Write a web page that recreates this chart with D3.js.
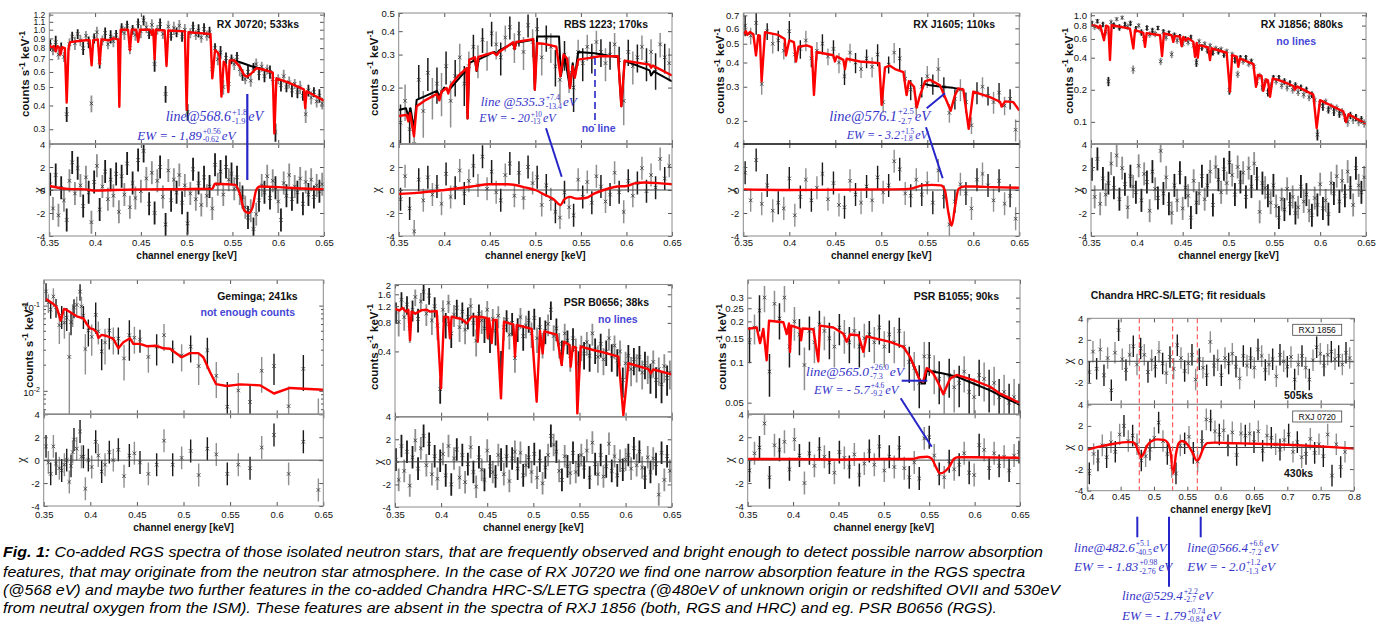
<!DOCTYPE html>
<html><head><meta charset="utf-8">
<script src="https://cdn.jsdelivr.net/npm/d3@7"></script>
<style>body{margin:0;background:#fff}</style>
</head><body>
<script>
// ================= DATA =================
const X_TICKS = [0.35,0.4,0.45,0.5,0.55,0.6,0.65];
const X_LABELS = ["0.35","0.4","0.45","0.5","0.55","0.6","0.65"];
const XC_TICKS = [0.4,0.45,0.5,0.55,0.6,0.65,0.7,0.75,0.8];
const XC_LABELS = ["0.4","0.45","0.5","0.55","0.6","0.65","0.7","0.75","0.8"];
const CHI_TICKS = [-4,-2,0,2,4];
const CHI_LABELS = ["-4","-2","0","2","4"];

// fine RGS channel grid (RX J0720, RX J1856, PSR B0656)
const E_fine = [0.351,0.354,0.357,0.360,0.363,0.366,0.369,0.372,0.375,0.378,
0.381,0.384,0.387,0.390,0.393,0.396,0.399,0.402,0.405,0.408,
0.411,0.414,0.417,0.420,0.423,0.426,0.429,0.432,0.435,0.438,
0.441,0.444,0.447,0.450,0.453,0.456,0.459,0.462,0.465,0.468,
0.471,0.474,0.477,0.480,0.483,0.486,0.489,0.492,0.495,0.498,
0.501,0.504,0.507,0.510,0.513,0.516,0.519,0.522,0.525,0.528,
0.531,0.534,0.537,0.540,0.543,0.546,0.549,0.552,0.555,0.558,
0.561,0.564,0.567,0.570,0.573,0.576,0.579,0.582,0.585,0.588,
0.591,0.594,0.597,0.600,0.603,0.606,0.609,0.612,0.615,0.618,
0.621,0.624,0.627,0.630,0.633,0.636,0.639,0.642,0.645,0.648];

// ---- RX J0720 ----
const J0720_yTicks = [0.3,0.4,0.5,0.6,0.7,0.8,0.9,1.0,1.1,1.2];
const J0720_yLabels = ["0.3","0.4","0.5","0.6","0.7","0.8","0.9","1.0","1.1","1.2"];
const J0720_flux = [.83,.78,.86,.74,.80,.72,.36,.84,.92,.85,
.95,.88,.80,.93,.86,.41,.90,.97,.68,.88,
.96,.84,.92,.87,.94,.85,1.02,.96,1.05,.80,
1.00,.94,1.08,.98,1.12,1.03,.95,1.06,.66,1.00,
1.07,.95,.46,1.04,.93,1.02,.97,1.05,.92,1.00,
.37,.96,1.03,.94,.99,.91,1.01,.93,.97,.62,
.80,.70,.76,.50,.71,.52,.70,.66,.72,.62,
.58,.55,.60,.54,.63,.66,.59,.64,.57,.62,
.60,.55,.29,.55,.51,.57,.50,.53,.48,.52,
.47,.50,.45,.36,.48,.44,.47,.42,.45,.41];
const J0720_err = [.07,.06,.08,.06,.07,.06,.09,.07,.06,.08,.06,.07,.08,.06,.07,.1,.06,.07,.08,.06,
.07,.06,.08,.07,.06,.07,.06,.08,.06,.07,.06,.07,.06,.08,.06,.07,.06,.07,.09,.06,
.07,.06,.1,.07,.06,.08,.06,.07,.06,.07,.1,.06,.07,.06,.08,.06,.07,.06,.07,.08,
.06,.07,.08,.09,.07,.08,.06,.07,.06,.08,.07,.06,.08,.07,.06,.07,.08,.06,.07,.06,
.08,.07,.11,.06,.07,.08,.06,.07,.08,.06,.07,.08,.06,.1,.07,.08,.06,.07,.08,.07];
const J0720_chi = [0.5,-1.6,1.3,-2.2,0.2,-0.9,-2.6,0.8,2.4,-0.3,
1.9,0.4,-1.4,1.1,-0.2,-2.8,0.7,2.1,-1.7,0.3,
1.6,-0.8,0.9,-0.5,1.4,-1.9,1.2,-0.4,2.3,-1.5,
0.6,-0.7,2.6,-0.1,3.4,1.0,-1.2,1.5,-2.0,0.8,
2.0,-0.6,-3.0,1.7,-0.9,0.9,-0.2,1.3,-1.1,0.4,
-2.9,-0.3,1.8,-0.8,0.6,-1.3,1.1,-0.5,0.3,-1.6,
2.2,0.5,1.6,-0.4,2.0,0.9,1.4,0.1,1.1,-0.3,
-0.6,-1.5,-2.4,-1.8,-3.4,-2.1,-0.9,0.4,-0.2,1.2,
-0.7,0.8,0.2,-1.0,-2.6,0.6,-0.5,1.3,-0.8,0.3,
-0.2,1.0,-1.2,0.7,-0.4,0.9,-0.6,0.4,-0.1,0.5];
const J0720_model = [[0.350,0.83],[0.353,0.80],[0.355,0.82],[0.357,0.77],[0.359,0.82],[0.361,0.80],[0.362,0.74],[0.364,0.81],[0.367,0.80],[0.369,0.414],[0.371,0.80],[0.3726,0.86],[0.380,0.87],[0.390,0.88],[0.394,0.88],[0.3962,0.65],[0.398,0.88],[0.403,0.89],[0.405,0.66],[0.407,0.89],[0.415,0.88],[0.420,0.90],[0.425,0.89],[0.4265,0.394],[0.428,1.0],[0.436,1.0],[0.438,0.78],[0.440,1.0],[0.445,1.0],[0.447,0.865],[0.449,1.0],[0.460,1.0],[0.462,0.94],[0.4635,1.0],[0.465,0.70],[0.4665,1.0],[0.476,0.99],[0.478,0.645],[0.480,0.99],[0.498,0.98],[0.500,0.38],[0.502,0.97],[0.515,0.96],[0.526,0.95],[0.528,0.555],[0.531,0.78],[0.534,0.76],[0.536,0.72],[0.538,0.445],[0.5405,0.68],[0.543,0.65],[0.5455,0.47],[0.547,0.69],[0.552,0.69],[0.558,0.64],[0.563,0.575],[0.566,0.567],[0.570,0.585],[0.576,0.627],[0.582,0.62],[0.588,0.61],[0.594,0.595],[0.5958,0.286],[0.598,0.555],[0.610,0.53],[0.620,0.505],[0.628,0.486],[0.6295,0.387],[0.631,0.475],[0.640,0.45],[0.650,0.424]];
const J0720_noline = [[0.547,0.69],[0.552,0.69],[0.560,0.67],[0.570,0.645],[0.580,0.625],[0.590,0.605],[0.594,0.595]];
const J0720_resid = [[0.35,0.35],[0.36,0.2],[0.37,0.1],[0.39,0.05],[0.40,-0.05],[0.42,0.0],[0.45,0.05],[0.5,0.08],[0.528,0.1],[0.531,0.55],[0.545,0.5],[0.553,0.45],[0.558,-0.3],[0.563,-1.8],[0.568,-2.0],[0.572,-1.5],[0.576,0],[0.58,0.3],[0.6,0.25],[0.62,0.15],[0.65,0.05]];

// ---- RBS 1223 ----
const R1223_yTicks = [0.2,0.3,0.4,0.5];
const R1223_yLabels = ["0.2","0.3","0.4","0.5"];
const R1223_E = [0.352,0.357,0.362,0.367,0.372,0.377,0.382,0.387,0.392,0.397,
0.402,0.407,0.412,0.417,0.422,0.427,0.432,0.437,0.442,0.447,
0.452,0.457,0.462,0.467,0.472,0.477,0.482,0.487,0.492,0.497,
0.502,0.507,0.512,0.517,0.522,0.527,0.532,0.537,0.542,0.547,
0.552,0.557,0.562,0.567,0.572,0.577,0.582,0.587,0.592,0.597,
0.602,0.607,0.612,0.617,0.622,0.627,0.632,0.637,0.642,0.647];
const R1223_flux = [.13,.17,.12,.10,.22,.15,.24,.18,.21,.19,
.26,.17,.23,.29,.21,.26,.33,.28,.36,.30,
.39,.34,.29,.37,.42,.33,.39,.31,.43,.35,
.41,.29,.37,.33,.26,.22,.30,.24,.20,.31,
.27,.33,.29,.35,.31,.27,.30,.34,.28,.17,
.31,.26,.29,.33,.27,.31,.25,.34,.29,.27];
const R1223_err = [.25,.22,.3,.35,.2,.28,.2,.25,.22,.26,.2,.28,.22,.18,.24,.2,.16,.2,.15,.18,
.15,.17,.2,.16,.14,.18,.15,.2,.14,.17,.15,.2,.16,.18,.22,.25,.18,.22,.26,.16,
.2,.16,.18,.15,.17,.2,.17,.15,.18,.26,.16,.2,.17,.15,.2,.17,.22,.15,.18,.2];
const R1223_chi = [-0.8,1.2,-1.6,-3.6,0.9,-0.9,1.1,-0.4,0.3,-1.2,
1.4,-0.6,0.2,1.7,-0.3,0.8,2.1,0.4,2.9,0.1,
1.6,-0.2,-0.9,1.3,2.3,-0.5,1.5,-0.7,2.0,0.6,
1.1,-1.3,0.4,-0.8,-1.9,-2.4,-0.2,-1.5,-2.2,0.9,
-0.6,0.7,-1.1,1.2,0.3,-1.0,-0.4,1.5,-0.2,-1.9,
0.8,-0.5,0.6,1.9,-0.1,1.3,0.2,2.7,1.0,2.1];
const R1223_model = [[0.350,0.141],[0.3588,0.143],[0.3606,0.132],[0.3625,0.146],[0.3668,0.110],[0.3697,0.159],[0.380,0.172],[0.3917,0.185],[0.3946,0.171],[0.397,0.19],[0.4026,0.199],[0.4044,0.186],[0.407,0.205],[0.415,0.23],[0.421,0.245],[0.4245,0.254],[0.4256,0.137],[0.4275,0.282],[0.4337,0.29],[0.4355,0.247],[0.4375,0.292],[0.4538,0.308],[0.4574,0.298],[0.461,0.312],[0.4757,0.349],[0.4772,0.322],[0.479,0.35],[0.4976,0.363],[0.4994,0.195],[0.502,0.345],[0.510,0.342],[0.523,0.331],[0.5275,0.23],[0.531,0.30],[0.535,0.285],[0.538,0.199],[0.541,0.26],[0.5433,0.226],[0.547,0.282],[0.560,0.288],[0.5707,0.294],[0.5908,0.294],[0.5944,0.159],[0.598,0.278],[0.6255,0.265],[0.627,0.255],[0.629,0.262],[0.650,0.232]];
const R1223_noline = [[0.350,0.152],[0.358,0.155],[0.3606,0.14],[0.363,0.155],[0.3668,0.12],[0.3697,0.172],[0.392,0.192],[0.3946,0.18],[0.40,0.2],[0.4044,0.192],[0.421,0.238],[0.4245,0.245],[0.4256,0.137],[0.4275,0.27],[0.4337,0.28],[0.4355,0.245],[0.438,0.283],[0.455,0.31],[0.4574,0.3],[0.46,0.315],[0.4757,0.345],[0.4772,0.32],[0.479,0.347],[0.4976,0.36],[0.4994,0.195],[0.502,0.375],[0.526,0.375],[0.528,0.23],[0.532,0.3],[0.538,0.199],[0.541,0.27],[0.5433,0.226],[0.547,0.31],[0.565,0.305],[0.5908,0.29],[0.5944,0.159],[0.598,0.278],[0.6255,0.247],[0.627,0.232],[0.63,0.244],[0.65,0.216]];
const R1223_resid = [[0.35,-0.35],[0.37,-0.25],[0.40,0.0],[0.43,0.3],[0.45,0.5],[0.47,0.5],[0.49,0.2],[0.50,0.0],[0.51,-0.4],[0.52,-0.8],[0.5275,-1.3],[0.532,-0.8],[0.538,-0.6],[0.545,-0.75],[0.555,-0.7],[0.565,-0.3],[0.575,0.0],[0.59,0.3],[0.60,0.35],[0.61,0.6],[0.62,0.65],[0.635,0.6],[0.65,0.5]];

// ---- RX J1605 ----
const J1605_yTicks = [0.2,0.3,0.4,0.5,0.6,0.7];
const J1605_yLabels = ["0.2","0.3","0.4","0.5","0.6","0.7"];
const J1605_E = [0.352,0.358,0.364,0.370,0.376,0.382,0.388,0.394,0.400,0.406,
0.412,0.418,0.424,0.430,0.436,0.442,0.448,0.454,0.460,0.466,
0.472,0.478,0.484,0.490,0.496,0.502,0.508,0.514,0.520,0.526,
0.532,0.538,0.544,0.550,0.556,0.562,0.568,0.574,0.580,0.586,
0.592,0.598,0.604,0.610,0.616,0.622,0.628,0.634,0.640,0.646];
const J1605_flux = [.62,.55,.64,.31,.58,.50,.52,.46,.58,.44,
.47,.52,.42,.46,.50,.43,.47,.40,.34,.45,
.40,.37,.42,.38,.44,.25,.39,.45,.42,.33,
.29,.24,.30,.34,.31,.37,.30,.22,.26,.29,
.25,.19,.28,.30,.27,.25,.28,.24,.26,.18];
const J1605_err = [.12,.1,.13,.12,.1,.11,.12,.1,.13,.1,.11,.12,.1,.11,.12,.1,.11,.12,.1,.11,
.12,.1,.11,.12,.13,.12,.1,.12,.13,.11,.12,.11,.12,.13,.12,.14,.12,.11,.12,.13,
.12,.1,.13,.12,.11,.13,.12,.11,.12,.13];
const J1605_chi = [1.5,-0.9,2.6,-1.2,0.4,-1.8,-1.1,-1.6,1.0,-2.2,
-0.6,0.9,-0.9,0.2,1.4,-0.8,0.6,-1.3,-1.5,0.8,
-0.4,-1.1,0.3,-0.9,1.1,-0.2,0.4,2.5,1.8,-0.3,
-0.5,0.9,-0.4,0.6,-1.1,1.7,-0.6,-3.0,-1.0,0.5,
-0.3,-1.6,0.9,1.4,0.4,-0.9,0.8,-1.2,-0.5,-2.5];
const J1605_model = [[0.350,0.559],[0.3529,0.58],[0.3543,0.555],[0.3572,0.575],[0.3609,0.56],[0.3638,0.435],[0.3663,0.553],[0.368,0.55],[0.3699,0.32],[0.3736,0.574],[0.380,0.565],[0.388,0.555],[0.395,0.529],[0.3964,0.435],[0.400,0.52],[0.405,0.51],[0.4073,0.405],[0.410,0.482],[0.4188,0.49],[0.4243,0.48],[0.4268,0.272],[0.4297,0.453],[0.4478,0.436],[0.4496,0.405],[0.4515,0.43],[0.4587,0.413],[0.4605,0.37],[0.4623,0.418],[0.4768,0.405],[0.4978,0.397],[0.5004,0.242],[0.504,0.378],[0.5094,0.385],[0.5149,0.37],[0.524,0.357],[0.5275,0.272],[0.530,0.32],[0.5356,0.30],[0.5384,0.234],[0.542,0.27],[0.5475,0.32],[0.5529,0.326],[0.5638,0.305],[0.570,0.26],[0.5754,0.226],[0.580,0.27],[0.5837,0.294],[0.5892,0.29],[0.595,0.182],[0.600,0.283],[0.6181,0.265],[0.629,0.251],[0.6308,0.237],[0.6345,0.252],[0.6435,0.25],[0.650,0.226]];
const J1605_noline = [[0.5475,0.31],[0.553,0.305],[0.565,0.30],[0.578,0.296],[0.5892,0.29]];
const J1605_resid = [[0.35,0.05],[0.40,0.0],[0.45,0.02],[0.50,0.05],[0.53,0.1],[0.545,0.4],[0.555,0.45],[0.565,0.4],[0.569,0.0],[0.573,-2.0],[0.5765,-3.1],[0.580,-1.5],[0.584,0.1],[0.59,0.3],[0.60,0.3],[0.62,0.25],[0.65,0.2]];

// ---- RX J1856 ----
const J1856_yTicks = [0.1,0.2,0.4,0.6,0.8,1.0];
const J1856_yLabels = ["0.1","0.2","0.4","0.6","0.8","1.0"];
const J1856_flux = [.84,.78,.88,.76,.82,.70,.24,.86,.80,.92,
.77,.95,.82,.78,.84,.31,.74,.80,.69,.60,
.76,.66,.72,.67,.76,.37,.70,.62,.68,.43,
.65,.58,.63,.54,.60,.56,.62,.52,.36,.57,
.50,.54,.47,.52,.45,.49,.46,.48,.43,.46,
.20,.43,.38,.28,.40,.37,.40,.35,.37,.33,
.24,.27,.21,.24,.19,.22,.26,.24,.26,.22,
.24,.21,.23,.20,.22,.19,.21,.18,.20,.17,
.18,.16,.076,.15,.14,.155,.13,.14,.125,.135,
.12,.125,.11,.10,.115,.105,.11,.10,.105,.097];
const J1856_err = [.06,.07,.05,.07,.06,.08,.1,.06,.07,.05,.07,.05,.06,.07,.06,.09,.07,.06,.07,.08,
.06,.07,.06,.07,.05,.08,.06,.07,.06,.08,.06,.07,.06,.07,.06,.07,.06,.07,.09,.06,
.07,.06,.07,.06,.07,.06,.07,.06,.07,.06,.1,.06,.07,.08,.06,.07,.06,.07,.06,.07,
.08,.07,.08,.07,.09,.07,.06,.07,.06,.08,.07,.08,.07,.08,.07,.08,.07,.08,.07,.08,
.07,.08,.12,.08,.09,.07,.08,.07,.09,.08,.09,.08,.09,.1,.08,.09,.08,.09,.08,.09];
const J1856_chi = [1.8,-0.6,2.7,-1.2,1.0,-0.4,0.6,2.3,0.2,3.0,
-0.8,1.9,0.5,-1.5,1.2,0.3,-0.2,2.1,-0.9,1.4,
0.7,-1.8,1.6,0.1,-0.7,3.4,-0.3,1.1,-1.2,-2.0,
0.4,-0.9,1.5,-1.6,0.2,-0.5,-2.4,0.8,-1.1,-0.3,
1.2,-0.8,0.4,1.6,-1.3,2.0,0.9,-0.2,1.8,0.6,
2.4,1.3,-0.4,2.0,0.7,1.5,-0.6,1.9,0.3,2.3,
1.0,-1.9,0.6,0.2,-0.5,-1.1,0.4,-1.4,-2.4,-0.8,
-1.7,0.1,-1.2,-0.6,-2.0,-1.5,0.3,-1.0,-0.4,-1.8,
-2.2,-0.7,-1.3,0.5,-1.6,-0.9,-2.1,0.6,-0.3,1.2,
-1.0,0.8,-0.5,1.6,0.2,-1.3,1.9,0.4,-0.2,1.1];
const J1856_model = [[0.350,0.806],[0.3562,0.79],[0.358,0.76],[0.360,0.80],[0.3642,0.584],[0.3665,0.80],[0.369,0.78],[0.3707,0.38],[0.3725,0.806],[0.3925,0.75],[0.3962,0.488],[0.398,0.724],[0.4071,0.684],[0.4089,0.506],[0.4107,0.68],[0.4253,0.65],[0.4275,0.414],[0.4296,0.674],[0.438,0.65],[0.4398,0.563],[0.4416,0.64],[0.4471,0.63],[0.4489,0.513],[0.4507,0.625],[0.4536,0.58],[0.456,0.61],[0.4616,0.563],[0.4635,0.408],[0.4653,0.55],[0.4665,0.40],[0.468,0.524],[0.478,0.498],[0.4798,0.38],[0.4816,0.49],[0.498,0.445],[0.5016,0.192],[0.504,0.422],[0.5089,0.41],[0.5107,0.329],[0.5125,0.393],[0.5271,0.348],[0.530,0.213],[0.532,0.275],[0.536,0.27],[0.538,0.196],[0.541,0.25],[0.543,0.245],[0.5453,0.172],[0.5482,0.256],[0.5598,0.238],[0.5707,0.217],[0.5725,0.20],[0.5745,0.215],[0.5925,0.18],[0.5962,0.0872],[0.5998,0.16],[0.6253,0.125],[0.6282,0.10],[0.631,0.118],[0.650,0.096]];

// ---- Geminga ----
const Gem_E = [0.3525,0.355,0.3575,0.3604,0.3632,0.3668,0.3693,0.3722,0.3747,0.3775,0.3793,0.3811,0.3825,0.3854,0.389,0.3905,0.3926,0.3947,0.3979,0.4015,0.4058,0.4086,0.4122,0.4158,0.4204,0.4247,0.4301,0.4362,0.4419,0.4473,0.4533,0.4623,0.4712,0.4791,0.4884,0.498,0.5077,0.5163,0.5256,0.5352,0.547,0.5588,0.5714,0.5839,0.5971,0.6128,0.6286,0.6447];
const Gem_flux = [.147,.109,.090,.128,.096,.059,.076,.063,.072,.025,.064,.080,.095,.102,.146,.098,.076,.031,.051,.043,.078,.050,.029,.037,.051,.041,.041,.024,.045,.042,.040,.025,.033,.045,.030,.026,.033,.0195,.030,.015,.0065,.0101,.0074,.0172,.0195,.0066,.0181,.0045];
const Gem_err = [.25,.25,.22,.25,.25,.4,.3,.35,.3,.95,.3,.3,.25,.25,.22,.3,.3,.5,.35,.4,.4,.3,.4,.45,.4,.35,.35,.45,.5,.35,.3,.35,.4,.35,.3,.35,.35,.4,.4,.45,.95,.6,.6,.45,.4,.7,.45,.8];
const Gem_chi = [1.2,-0.2,-1.2,1.2,-0.3,-0.7,-0.9,-0.4,0.0,-1.9,-0.5,0.7,1.8,1.0,2.5,0.3,0.3,-2.5,0.0,-0.6,1.6,0.4,-1.0,-0.4,0.7,0.0,0.9,-1.4,0.4,0.6,-0.2,-1.2,-0.4,1.7,-0.4,0.2,0.8,-1.3,1.0,0.5,-1.2,-0.4,-0.7,1.1,2.2,-1.2,1.6,-2.6];
const Gem_model = [[0.3525,0.1197],[0.3604,0.1046],[0.364,0.0956],[0.3682,0.0667],[0.3718,0.0914],[0.3747,0.089],[0.3854,0.075],[0.3926,0.071],[0.3961,0.061],[0.3997,0.0542],[0.4033,0.053],[0.4069,0.0487],[0.4087,0.0418],[0.4122,0.0453],[0.4176,0.044],[0.4247,0.0407],[0.4301,0.0316],[0.4355,0.0372],[0.4426,0.0414],[0.4462,0.0356],[0.4533,0.0356],[0.4605,0.0334],[0.4712,0.0338],[0.4784,0.0316],[0.4855,0.0312],[0.498,0.0248],[0.507,0.0277],[0.5159,0.0277],[0.5213,0.0248],[0.5284,0.0166],[0.5349,0.012],[0.5463,0.0114],[0.5606,0.0119],[0.5821,0.0116],[0.5971,0.0093],[0.6142,0.0108],[0.650,0.0103]];
const Gem_major = [0.01,0.1];
const Gem_minor = [0.006,0.007,0.008,0.009,0.02,0.03,0.04,0.05,0.06,0.07,0.08,0.09];

// ---- PSR B0656 ----
const B0656_yTicks = [0.4,0.8,1.2,1.6,2];
const B0656_yLabels = ["0.4","0.8","1.2","1.6","2"];
const B0656_flux = [1.05,.82,1.4,.92,1.25,.70,1.1,1.5,.88,1.35,
1.7,1.0,1.55,.85,1.2,.75,.16,1.1,.78,1.3,
.62,.98,1.15,.72,1.05,.68,.92,1.2,.80,.52,
1.0,.85,.70,1.1,.55,.88,.66,.95,.31,.72,
.86,.60,.80,.34,.70,.92,.58,.75,.85,.62,
.90,.55,.72,.48,.66,.78,1.1,.58,.70,.48,
.40,.62,.52,.36,.55,.42,.30,.45,.38,.50,
.36,.62,.42,.35,.48,.33,.40,.55,.36,.46,
.32,.40,.20,.30,.36,.26,.33,.28,.35,.24,
.30,.27,.22,.31,.20,.26,.18,.28,.21,.24];
const B0656_err = [.25,.3,.2,.28,.22,.3,.25,.2,.28,.22,.2,.26,.2,.3,.24,.3,.3,.26,.3,.22,
.3,.26,.22,.3,.25,.3,.26,.22,.28,.32,.25,.28,.3,.24,.3,.27,.3,.26,.3,.28,
.26,.3,.27,.3,.28,.25,.3,.27,.26,.3,.25,.3,.27,.3,.28,.26,.22,.3,.27,.3,
.3,.26,.28,.32,.28,.3,.34,.3,.32,.28,.32,.26,.3,.32,.28,.32,.3,.26,.32,.28,
.32,.3,.35,.32,.3,.34,.32,.33,.3,.34,.32,.33,.35,.32,.36,.33,.37,.33,.35,.34];
const B0656_chi = [0.2,-1.6,1.4,-0.8,0.9,-2.1,0.4,1.9,-0.6,1.2,
2.3,-0.3,1.6,-1.1,0.5,-1.5,0.1,0.7,-1.2,1.4,
-2.0,0.3,1.1,-1.4,0.6,-1.8,-0.2,1.3,-0.9,-2.2,
0.4,-0.7,-1.6,1.0,-0.4,-0.9,-1.3,0.6,0.2,-1.1,
0.5,-1.7,0.3,0.9,-0.6,0.8,-1.2,-0.3,0.4,-0.9,
0.7,-1.4,0.1,-1.9,-0.5,0.6,2.3,1.5,0.9,-0.8,
-1.6,0.5,-0.4,-1.0,0.8,-0.9,-0.3,0.6,-0.5,1.0,
-1.4,1.7,-0.2,-1.1,0.6,-1.3,-0.4,1.6,-0.8,0.5,
-1.2,0.1,-0.7,0.2,0.6,-0.6,1.2,-0.3,0.9,-0.5,
-1.4,0.4,-0.9,0.3,-0.2,-2.9,0.8,-1.6,0.5,-0.8];
const B0656_model = [[0.350,1.12],[0.355,1.08],[0.358,1.15],[0.362,1.05],[0.3645,1.1],[0.3663,0.526],[0.368,1.05],[0.372,1.0],[0.3789,1.09],[0.3843,1.1],[0.388,1.05],[0.3952,1.065],[0.3999,0.163],[0.4031,0.927],[0.4078,0.92],[0.4096,0.55],[0.4114,0.93],[0.4169,0.9],[0.422,0.88],[0.4277,0.79],[0.4331,0.93],[0.4386,0.93],[0.4397,0.506],[0.4415,0.93],[0.4494,0.9],[0.4505,0.55],[0.452,0.89],[0.4548,0.49],[0.4566,0.857],[0.4602,0.857],[0.4649,0.128],[0.4682,0.822],[0.4783,0.77],[0.4801,0.352],[0.482,0.76],[0.4982,0.69],[0.5036,0.118],[0.5072,0.657],[0.5101,0.38],[0.512,0.65],[0.5253,0.6],[0.5307,0.288],[0.5332,0.505],[0.539,0.47],[0.5405,0.276],[0.5427,0.449],[0.546,0.44],[0.5477,0.0888],[0.5513,0.45],[0.565,0.414],[0.5759,0.39],[0.5922,0.352],[0.5976,0.085],[0.6031,0.30],[0.6248,0.26],[0.6273,0.235],[0.630,0.258],[0.650,0.229]];

// ---- PSR B1055 ----
const B1055_yTicks = [0.05,0.1,0.15,0.2,0.25,0.3];
const B1055_yLabels = ["0.05","0.1","0.15","0.2","0.25","0.3"];
const B1055_E = [0.352,0.3575,0.363,0.3685,0.374,0.3795,0.385,0.3905,0.396,0.4015,
0.407,0.4125,0.418,0.4235,0.429,0.4345,0.44,0.4455,0.451,0.4565,
0.462,0.4675,0.473,0.4785,0.484,0.4895,0.495,0.5005,0.506,0.5115,
0.517,0.5225,0.528,0.5335,0.539,0.5445,0.55,0.5555,0.561,0.5665,
0.572,0.5775,0.583,0.5885,0.594,0.5995,0.605,0.6105,0.616,0.6215,
0.627,0.6325,0.638,0.6435,0.649];
const B1055_flux = [0.14,0.18,0.24,0.30,0.085,0.27,0.21,0.30,0.13,0.20,
0.16,0.095,0.17,0.14,0.19,0.17,0.15,0.13,0.18,0.16,
0.14,0.17,0.13,0.15,0.16,0.14,0.18,0.13,0.16,0.14,
0.17,0.13,0.10,0.09,0.07,0.11,0.11,0.085,0.075,0.06,
0.08,0.065,0.07,0.085,0.06,0.055,0.08,0.075,0.065,0.07,
0.055,0.06,0.05,0.055,0.05];
const B1055_err = [.3,.25,.3,.22,.35,.25,.3,.22,.3,.28,.3,.35,.28,.3,.26,.28,.3,.3,.26,.28,
.3,.26,.3,.28,.26,.3,.25,.3,.27,.3,.25,.3,.3,.32,.35,.28,.28,.32,.35,.38,
.32,.35,.34,.3,.36,.38,.3,.32,.35,.32,.36,.34,.38,.36,.38];
const B1055_chi = [-0.9,0.6,1.1,3.2,-1.5,1.3,0.9,1.6,-0.8,1.8,
0.4,-2.0,0.6,-0.5,1.0,0.3,-0.2,-1.1,0.7,0.2,
-0.6,0.5,-1.3,-0.3,0.8,-0.4,1.2,-0.9,0.3,-0.6,
1.1,-0.7,-1.5,-0.2,-1.6,1.9,2.0,0.4,-1.2,-1.5,
-0.1,-0.8,-0.4,0.6,-1.1,-1.3,1.3,0.9,-0.7,0.6,
-0.5,0.3,-0.9,0.4,0.7];
const B1055_model = [[0.350,0.176],[0.3599,0.18],[0.3636,0.138],[0.3672,0.176],[0.3709,0.103],[0.3735,0.202],[0.3893,0.197],[0.393,0.161],[0.3955,0.193],[0.3966,0.119],[0.398,0.186],[0.4077,0.177],[0.4088,0.145],[0.4105,0.177],[0.4223,0.175],[0.4278,0.101],[0.4297,0.186],[0.4444,0.18],[0.4554,0.162],[0.4591,0.141],[0.4628,0.16],[0.472,0.158],[0.4774,0.119],[0.481,0.155],[0.5068,0.141],[0.5215,0.1297],[0.5288,0.109],[0.5343,0.0899],[0.5398,0.0725],[0.5435,0.072],[0.5472,0.09],[0.5491,0.089],[0.5545,0.082],[0.560,0.07],[0.5655,0.0577],[0.5729,0.0753],[0.5802,0.0802],[0.5986,0.0735],[0.617,0.0656],[0.6279,0.0584],[0.639,0.054],[0.650,0.0495]];
const B1055_noline = [[0.5288,0.109],[0.538,0.0778],[0.5417,0.0693],[0.5453,0.0693],[0.5472,0.086],[0.5509,0.0858],[0.5655,0.0822],[0.5802,0.0779],[0.5986,0.0693],[0.617,0.0617],[0.6353,0.0536],[0.650,0.0481]];
const B1055_resid = [[0.35,0.1],[0.40,0.1],[0.45,0.05],[0.50,0.1],[0.53,0.1],[0.54,0.25],[0.548,0.3],[0.553,0.1],[0.558,-0.7],[0.562,-1.15],[0.567,-1.0],[0.572,-0.6],[0.577,0.1],[0.582,0.25],[0.60,0.25],[0.65,0.2]];

// ---- Chandra HRC-S/LETG residuals ----
const HRC1856_E = [0.403,0.4085,0.414,0.4195,0.425,0.4305,0.436,0.4415,0.447,0.4525,
0.458,0.4635,0.469,0.4745,0.48,0.4855,0.491,0.4965,0.502,0.5075,
0.513,0.5185,0.524,0.5295,0.535,0.5405,0.546,0.5515,0.557,0.5625,
0.568,0.5735,0.579,0.5845,0.59,0.5955,0.601,0.6065,0.612,0.6175,
0.623,0.6285,0.634,0.6395,0.645,0.6505,0.656,0.6615,0.667,0.6725,
0.678,0.6835,0.689,0.6945,0.70,0.7055,0.711,0.7165,0.722,0.7275,
0.733,0.7385,0.744,0.7495,0.755,0.7605,0.766,0.7715,0.777,0.7825,0.788,0.7935];
const HRC1856_chi = [-1.0,0.9,-0.7,1.1,-1.3,0.3,-2.7,0.8,2.9,0.2,
-0.8,0.6,1.4,-0.3,1.2,0.6,-1.0,0.1,-0.5,0.9,
-0.2,-1.1,0.4,-0.7,1.5,0.3,-0.9,-0.2,0.6,-1.7,
0.2,-0.6,-1.3,1.8,-0.4,0.1,-1.3,0.3,-0.2,0.7,
-0.5,-1.6,0.5,-0.4,0.3,-0.6,1.1,0.5,-0.8,-0.3,
0.2,-1.4,0.6,0.0,-0.5,0.4,-1.7,-0.3,0.5,-0.6,
-1.7,0.1,1.3,0.7,-0.4,0.6,0.9,0.2,0.5,-0.3,0.8,0.3];
const HRC0720_E = [0.403,0.4095,0.416,0.4225,0.429,0.4355,0.442,0.4485,0.455,0.4615,
0.468,0.4745,0.481,0.4875,0.494,0.5005,0.507,0.5135,0.52,0.5265,
0.533,0.5395,0.546,0.5525,0.559,0.5655,0.572,0.5785,0.585,0.5915,
0.598,0.6045,0.611,0.6175,0.624,0.6305,0.637,0.6435,0.65,0.6565,
0.663,0.6695,0.676,0.6825,0.689,0.6955,0.702,0.7085,0.715,0.7215,
0.728,0.7345,0.741,0.7475,0.754,0.7605,0.767,0.7735,0.78,0.7865];
const HRC0720_chi = [-2.4,-0.6,-1.2,0.2,-0.9,0.5,-0.4,1.2,2.0,0.6,
1.1,0.3,-1.2,-0.8,-0.2,0.9,2.3,0.6,-0.6,-1.8,
-2.4,0.2,0.4,1.0,-0.5,-1.3,0.6,2.6,2.5,1.5,
1.2,1.6,0.2,1.4,-0.7,1.3,1.1,1.3,0.5,1.5,
-0.3,1.1,0.9,0.3,-0.2,0.7,1.2,-0.4,0.5,-0.9,
-0.6,0.8,-0.5,0.3,-0.8,1.2,-2.6,0.3,-1.8,-0.4];
const HRC0720_resid = [[0.4,-0.2],[0.42,0.1],[0.44,0.35],[0.46,0.5],[0.468,0.5],[0.473,0.2],[0.478,-0.6],[0.481,-0.9],[0.485,-0.5],[0.49,0.2],[0.497,0.6],[0.505,0.75],[0.515,0.7],[0.521,0.4],[0.525,-0.5],[0.529,-2.4],[0.533,-0.6],[0.537,0.4],[0.542,0.6],[0.55,0.3],[0.558,-0.5],[0.564,-1.2],[0.568,-1.0],[0.573,-0.2],[0.58,0.4],[0.59,0.45],[0.62,0.4],[0.65,0.35],[0.7,0.25],[0.75,0.1],[0.8,-0.1]];
const HRC_lines = [0.478,0.528,0.565];

const CAPTION = [
 ["Fig. 1:"," Co-added RGS spectra of those isolated neutron stars, that are frequently observed and bright enough to detect possible narrow absorption"],
 ["","features, that may originate from the neutron star atmosphere. In the case of RX J0720 we find one narrow absorption feature in the RGS spectra"],
 ["","(@568 eV) and maybe two further features in the co-added Chandra HRC-S/LETG spectra (@480eV of unknown origin or redshifted OVII and 530eV"],
 ["","from neutral oxygen from the ISM). These features are absent in the spectra of RXJ 1856 (both, RGS and HRC) and eg. PSR B0656 (RGS)."]
];

// ================= DRAWING =================
const SANS = "'Liberation Sans', Arial, Helvetica, sans-serif";
const SERIF = "'Liberation Serif', 'Times New Roman', serif";
const BLUE = "#3434c8";
const BLUE2 = "#4646d6";
const RED = "#ff0000";
const DARK = "#1a1a1a", GRAY = "#8f8f8f";

const svg = d3.select("body").append("svg").attr("width",1383).attr("height",625)
  .style("background","#fff");
let clipN = 0;
function clip(x,y,w,h){
  const id = "clp"+(clipN++);
  svg.append("clipPath").attr("id",id).append("rect").attr("x",x).attr("y",y).attr("width",w).attr("height",h);
  return `url(#${id})`;
}

function frame(xs, ys, o){
  const [x0,x1] = xs.range(); const [yb,yt] = ys.range();
  const g = svg.append("g");
  g.append("g").attr("transform",`translate(${x0},0)`)
    .call(d3.axisLeft(ys).tickValues(o.yTicks).tickSize(-4).tickPadding(4)
      .tickFormat((d,i)=> o.yLabels ? o.yLabels[i] : ""));
  g.append("g").attr("transform",`translate(${x1},0)`)
    .call(d3.axisRight(ys).tickValues(o.yTicks).tickSize(-4).tickFormat(""));
  g.append("g").attr("transform",`translate(0,${yb})`)
    .call(d3.axisBottom(xs).tickValues(o.xTicks).tickSize(-4).tickPadding(o.xPad||3)
      .tickFormat((d,i)=> o.xLabels ? o.xLabels[i] : ""));
  g.append("g").attr("transform",`translate(0,${yt})`)
    .call(d3.axisTop(xs).tickValues(o.xTicks).tickSize(-4).tickFormat(""));
  g.selectAll(".domain").remove();
  g.selectAll(".tick line").attr("stroke","#555");
  g.selectAll("text").attr("font-family",SANS).attr("font-size",o.fs||9.5).attr("fill","#111");
  g.append("rect").attr("x",x0).attr("y",yt).attr("width",x1-x0).attr("height",yb-yt)
    .attr("fill","none").attr("stroke","#8a8a8a").attr("stroke-width",1);
  return g;
}

function xmark(g, px, py){
  g.append("path").attr("d",`M${px-1.8},${py-1.8}L${px+1.8},${py+1.8}M${px-1.8},${py+1.8}L${px+1.8},${py-1.8}`)
    .attr("stroke","#333").attr("stroke-width",0.8);
}

function drawUpperData(g, xs, ys, E, V, R, bw){
  const floor = ys.domain()[0]*0.8;
  E.forEach((e,i)=>{
    const px = xs(e), v = V[i], r = R[i];
    g.append("line").attr("x1",px).attr("x2",px)
      .attr("y1",ys(Math.max(v*(1-r),floor))).attr("y2",ys(v*(1+r)))
      .attr("stroke", i%2 ? GRAY : DARK).attr("stroke-width",bw||1.3);
  });
  E.forEach((e,i)=> xmark(g, xs(e), ys(Math.max(V[i],ys.domain()[0]*0.8))));
}
function drawResidData(g, xs, cs, E, C, bw){
  E.forEach((e,i)=>{
    const px = xs(e);
    g.append("line").attr("x1",px).attr("x2",px).attr("y1",cs(C[i]-1)).attr("y2",cs(C[i]+1))
      .attr("stroke", i%2 ? GRAY : DARK).attr("stroke-width",bw||1.3);
  });
  E.forEach((e,i)=> xmark(g, xs(e), cs(C[i])));
}
function curve(g, xs, ys, data, color, w, smooth){
  const ln = d3.line().x(d=>xs(d[0])).y(d=>ys(d[1]));
  if(smooth) ln.curve(d3.curveMonotoneX);
  g.append("path").attr("d",ln(data)).attr("fill","none").attr("stroke",color)
    .attr("stroke-width",w).attr("stroke-linejoin","round");
}

function ylabelCounts(x, y){
  const fs = 11.5;
  const t = svg.append("text").attr("transform",`translate(${x},${y}) rotate(-90)`)
    .attr("text-anchor","middle").attr("font-family",SANS).attr("font-weight","bold")
    .attr("font-size",fs).attr("fill","#111");
  t.append("tspan").text("counts s");
  t.append("tspan").attr("dy",-4.5).attr("font-size",8.5).text("-1");
  t.append("tspan").attr("dy",4.5).text(" keV");
  t.append("tspan").attr("dy",-4.5).attr("font-size",8.5).text("-1");
}
function chiLabel(x, y){
  svg.append("text").attr("transform",`translate(${x},${y}) rotate(-90)`)
    .attr("text-anchor","middle").attr("font-family",SERIF).attr("font-size",13)
    .attr("fill","#111").text("χ");
}
function xTitle(cx, y){
  svg.append("text").attr("x",cx).attr("y",y).attr("text-anchor","middle")
    .attr("font-family",SANS).attr("font-weight","bold").attr("font-size",10)
    .attr("fill","#111").text("channel energy [keV]");
}
function boldText(x, y, s, anchor, color, fs){
  svg.append("text").attr("x",x).attr("y",y).attr("text-anchor",anchor||"start")
    .attr("font-family",SANS).attr("font-weight","bold").attr("font-size",fs||10.5)
    .attr("fill",color||"#111").text(s);
}
function annot(x, y, main, sup, sub, tail, fs){
  const g = svg.append("g").attr("fill",BLUE).attr("font-family",SERIF);
  const t1 = g.append("text").attr("x",x).attr("y",y).attr("font-size",fs).attr("font-style","italic").text(main);
  const w1 = t1.node().getComputedTextLength();
  const sfs = fs*0.6;
  const t2 = g.append("text").attr("x",x+w1+1).attr("y",y-fs*0.45).attr("font-size",sfs).text(sup);
  const t3 = g.append("text").attr("x",x+w1+1).attr("y",y+fs*0.2).attr("font-size",sfs).text(sub);
  const w2 = Math.max(t2.node().getComputedTextLength(), t3.node().getComputedTextLength());
  g.append("text").attr("x",x+w1+w2+2).attr("y",y).attr("font-size",fs).attr("font-style","italic").text(tail);
}
function bline(pts, w, dash){
  const p = svg.append("path").attr("d", d3.line()(pts)).attr("fill","none")
    .attr("stroke","#2626c8").attr("stroke-width",w||2);
  if(dash) p.attr("stroke-dasharray",dash);
}

function spectrumPanel(p){
  const xs = d3.scaleLinear().domain([0.35,0.65]).range([p.x0,p.x1]);
  const ys = d3.scaleLog().domain(p.yDomain).range([p.split,p.top]);
  const cs = d3.scaleLinear().domain([-4,4]).range([p.bottom,p.split]);
  // upper
  const gu = svg.append("g").attr("clip-path", clip(p.x0,p.top,p.x1-p.x0,p.split-p.top));
  drawUpperData(gu, xs, ys, p.E, p.flux, p.err, p.bw);
  if(p.noline) curve(gu, xs, ys, p.noline, "#000", 2);
  curve(gu, xs, ys, p.model, RED, 2.4);
  // lower
  const gl = svg.append("g").attr("clip-path", clip(p.x0,p.split,p.x1-p.x0,p.bottom-p.split));
  drawResidData(gl, xs, cs, p.E, p.chi, p.bw);
  gl.append("line").attr("x1",p.x0).attr("x2",p.x1).attr("y1",cs(0)).attr("y2",cs(0))
    .attr("stroke","#444").attr("stroke-width",1);
  if(p.resid) curve(gl, xs, cs, p.resid, RED, 2.4, true);
  // frames
  frame(xs, ys, {yTicks:p.yTicks, yLabels:p.logLabels?null:p.yLabels, xTicks:X_TICKS, xLabels:null, fs:p.yfs});
  frame(xs, cs, {yTicks:CHI_TICKS, yLabels:CHI_LABELS, xTicks:X_TICKS, xLabels:X_LABELS, xPad:p.xPad});
  svg.append("line").attr("x1",p.x0).attr("x2",p.x1).attr("y1",p.split).attr("y2",p.split)
    .attr("stroke", p.splitColor||"#8a8a8a").attr("stroke-width",1.6);
  return {xs, ys, cs};
}

// ---- top row ----
const TOP = {top:13, split:144, bottom:236, xPad:3.5};
spectrumPanel(Object.assign({x0:49.3,x1:324,yDomain:[0.251,1.224],yTicks:J0720_yTicks,yLabels:J0720_yLabels,yfs:8.5,bw:1.8,
  E:E_fine,flux:J0720_flux,err:J0720_err,chi:J0720_chi,model:J0720_model,noline:J0720_noline,resid:J0720_resid},TOP));
spectrumPanel(Object.assign({x0:398.7,x1:672,yDomain:[0.1,0.5],yTicks:R1223_yTicks,yLabels:R1223_yLabels,bw:1.5,
  E:R1223_E,flux:R1223_flux,err:R1223_err,chi:R1223_chi,model:R1223_model,noline:R1223_noline,resid:R1223_resid},TOP));
spectrumPanel(Object.assign({x0:743.3,x1:1019.3,yDomain:[0.152,0.72],yTicks:J1605_yTicks,yLabels:J1605_yLabels,bw:1.4,
  E:J1605_E,flux:J1605_flux,err:J1605_err,chi:J1605_chi,model:J1605_model,noline:J1605_noline,resid:J1605_resid,splitColor:"#222"},TOP));
spectrumPanel(Object.assign({x0:1091,x1:1366,yDomain:[0.062,1.05],yTicks:J1856_yTicks,yLabels:J1856_yLabels,bw:1.8,
  E:E_fine,flux:J1856_flux,err:J1856_err,chi:J1856_chi,model:J1856_model},TOP));

// ---- bottom row ----
const gem = spectrumPanel({x0:43.7,x1:323.3,top:280,split:414.3,bottom:506,xPad:5,yDomain:[0.0053,0.2],bw:1.4,
  yTicks:Gem_major,logLabels:true,E:Gem_E,flux:Gem_flux,err:Gem_err,chi:Gem_chi,model:Gem_model});
// Geminga minor ticks and power-of-ten labels
(function(){
  const g = svg.append("g");
  Gem_minor.forEach(v=>{
    const y = gem.ys(v);
    g.append("line").attr("x1",43.7).attr("x2",46).attr("y1",y).attr("y2",y).attr("stroke","#555");
    g.append("line").attr("x1",321).attr("x2",323.3).attr("y1",y).attr("y2",y).attr("stroke","#555");
  });
  Gem_major.forEach(v=>{
    const y = gem.ys(v);
    const t = g.append("text").attr("x",40).attr("y",y+5).attr("text-anchor","end")
      .attr("font-family",SANS).attr("font-size",9.5).attr("fill","#111");
    t.append("tspan").text("10");
    t.append("tspan").attr("dy",-4).attr("font-size",7).text(v===0.1?"-1":"-2");
  });
})();
spectrumPanel({x0:395,x1:671.7,top:284.5,split:416.7,bottom:507,xPad:4.5,yDomain:[0.082,2.03],bw:1.8,
  yTicks:B0656_yTicks,yLabels:B0656_yLabels,E:E_fine,flux:B0656_flux,err:B0656_err,chi:B0656_chi,model:B0656_model});
spectrumPanel({x0:747.7,x1:1020,top:280,split:414.3,bottom:506,xPad:5,yDomain:[0.041,0.405],bw:1.5,
  yTicks:B1055_yTicks,yLabels:B1055_yLabels,E:B1055_E,flux:B1055_flux,err:B1055_err,chi:B1055_chi,model:B1055_model,noline:B1055_noline,resid:B1055_resid});

// ---- Chandra panel ----
(function(){
  const x0=1087.3, x1=1354, t=318.3, m=404.3, b=490.7;
  const xs = d3.scaleLinear().domain([0.4,0.8]).range([x0,x1]);
  const c1 = d3.scaleLinear().domain([-4,4]).range([m,t]);
  const c2 = d3.scaleLinear().domain([-4,4]).range([b,m]);
  const g1 = svg.append("g").attr("clip-path", clip(x0,t,x1-x0,m-t));
  drawResidData(g1, xs, c1, HRC1856_E, HRC1856_chi, 1.4);
  g1.append("line").attr("x1",x0).attr("x2",x1).attr("y1",c1(0)).attr("y2",c1(0)).attr("stroke","#444");
  const g2 = svg.append("g").attr("clip-path", clip(x0,m,x1-x0,b-m));
  drawResidData(g2, xs, c2, HRC0720_E, HRC0720_chi, 1.4);
  g2.append("line").attr("x1",x0).attr("x2",x1).attr("y1",c2(0)).attr("y2",c2(0)).attr("stroke","#444");
  curve(g2, xs, c2, HRC0720_resid, RED, 2.4, true);
  HRC_lines.forEach(e=>{
    svg.append("line").attr("x1",xs(e)).attr("x2",xs(e)).attr("y1",t).attr("y2",b)
      .attr("stroke","#ff5050").attr("stroke-width",1.1).attr("stroke-dasharray","5,3");
  });
  frame(xs, c1, {yTicks:[-4,-2,0,2,4], yLabels:["","-2","0","2","4"], xTicks:XC_TICKS, xLabels:null});
  frame(xs, c2, {yTicks:CHI_TICKS, yLabels:CHI_LABELS, xTicks:XC_TICKS, xLabels:XC_LABELS, xPad:3});
  chiLabel(1072, c1(0));
  chiLabel(1072, c2(0));
  xTitle((x0+x1)/2, 513);
  boldText(1090.7, 299, "Chandra HRC-S/LETG; fit residuals", "start", "#111", 10.5);
  [["RXJ 1856",324.3],["RXJ 0720",411]].forEach(([s,y])=>{
    svg.append("rect").attr("x",1292.7).attr("y",y).attr("width",49).attr("height",11)
      .attr("fill","#fff").attr("stroke","#444").attr("stroke-width",0.8);
    svg.append("text").attr("x",1317.2).attr("y",y+8.5).attr("text-anchor","middle")
      .attr("font-family",SANS).attr("font-size",8.5).attr("fill","#111").text(s);
  });
  boldText(1284, 399, "505ks", "start", "#111", 10.5);
  boldText(1284, 477, "430ks", "start", "#111", 10.5);
})();

// ---- axis titles / labels ----
[[49.3,324],[398.7,672],[743.3,1019.3],[1091,1366]].forEach(([a,b])=>xTitle((a+b)/2, 258.5));
[[43.7,323.3],[395,671.7],[747.7,1020]].forEach(([a,b])=>xTitle((a+b)/2, 531));
ylabelCounts(29, 74); ylabelCounts(377.5, 73); ylabelCounts(724, 71); ylabelCounts(1072.5, 71);
ylabelCounts(32.5, 345); ylabelCounts(377.5, 347); ylabelCounts(726, 347);
chiLabel(41.5, 190); chiLabel(380, 190); chiLabel(733.5, 190); chiLabel(1081, 190);
chiLabel(25, 460); chiLabel(381.5, 462); chiLabel(732.5, 460);

// ---- titles ----
boldText(299, 28, "RX J0720; 533ks", "end");
boldText(648, 28, "RBS 1223; 170ks", "end");
boldText(995, 28, "RX J1605; 110ks", "end");
boldText(1343, 28, "RX J1856; 880ks", "end");
boldText(297.7, 299.5, "Geminga; 241ks", "end");
boldText(649, 306, "PSR B0656; 38ks", "end");
boldText(999, 299.5, "PSR B1055; 90ks", "end");
boldText(1316, 45, "no lines", "end", BLUE2);
boldText(295, 316, "not enough counts", "end", BLUE2);
boldText(637.7, 323, "no lines", "end", BLUE2);
boldText(581.7, 131.5, "no line", "start", BLUE2);

// ---- annotations ----
bline([[247.3,94],[247.3,180]], 2.2);
annot(165.7, 121, "line@568.6", "+1.8", "-1.9", "eV", 14);
annot(137.3, 139.5, "EW = - 1.89", "+0.56", "-0.62", "eV", 13);

bline([[595,58],[595,125]], 1.6, "7,4");
bline([[546,128.3],[561.7,176.7]], 2);
annot(480.7, 106, "line @535.3", "+7.4", "-13.4", "eV", 13);
annot(479.3, 122, "EW = - 20", "+10", "-13", "eV", 12);

bline([[926.7,108.3],[945,93.3]], 2);
bline([[926,127.3],[942.7,178.3]], 2);
annot(829.3, 121, "line@576.1", "+2.5", "-2.7", "eV", 14.5);
annot(846.7, 139, "EW = - 3.2", "+1.5", "-1.8", "eV", 12);

bline([[901.7,380.7],[927.3,380.7]], 2);
bline([[900.7,398.3],[931.7,446.7]], 2);
annot(806, 376, "line@565.0", "+26.0", "-7.3", "eV", 13.5);
annot(814, 393.5, "EW = - 5.7", "+4.6", "-9.2", "eV", 12.5);

bline([[1137.3,516.7],[1137.3,537.3]], 2);
bline([[1169,516.7],[1169,586.7]], 2);
bline([[1200.7,516.7],[1200.7,537.3]], 2);
annot(1074, 552, "line@482.6", "+5.1", "-40.5", "eV", 13);
annot(1074, 571, "EW = - 1.83", "+0.98", "-2.76", "eV", 13);
annot(1187.3, 552, "line@566.4", "+6.6", "-7.2", "eV", 13);
annot(1187.3, 571, "EW = - 2.0", "+1.2", "-1.3", "eV", 13);
annot(1122, 599.5, "line@529.4", "+2.2", "-2.7", "eV", 13);
annot(1122, 619.5, "EW = - 1.79", "+0.74", "-0.84", "eV", 13);

// ---- caption ----
const capY = [557, 577, 595, 613];
const capW = [1040, 1022, 1057, 994];
CAPTION.forEach((ln,i)=>{
  const t = svg.append("text").attr("x",3).attr("y",capY[i]).attr("font-family",SANS)
    .attr("font-size",14.5).attr("font-style","italic").attr("fill","#000")
    .attr("textLength",capW[i]).attr("lengthAdjust","spacingAndGlyphs");
  if(ln[0]) t.append("tspan").attr("font-weight","bold").text(ln[0]);
  t.append("tspan").text(ln[1]);
});
</script>
</body></html>
